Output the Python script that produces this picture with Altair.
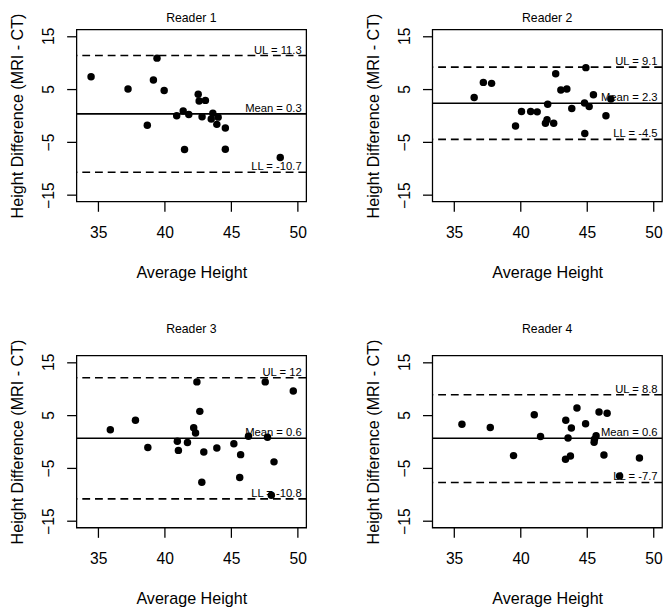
import altair as alt
import pandas as pd

# ---- data ----
READERS = ["Reader 1", "Reader 2", "Reader 3", "Reader 4"]

avg_r1 = [34.46, 39.42, 37.24, 39.15, 39.96, 38.69, 40.90, 41.39, 41.81, 41.49, 42.52,
          42.59, 43.06, 42.81, 43.62, 43.50, 44.02, 43.92, 44.56, 44.56, 48.69]
diff_r1 = [7.28, 10.8, 5.0, 6.67, 4.69, -1.85, -0.06, 0.86, 0.19, -6.42, 4.01,
           2.72, 2.84, -0.25, 0.43, -0.68, -0.31, -1.67, -2.35, -6.36, -7.90]

avg_r2 = [36.51, 37.20, 37.82, 39.62, 40.07, 40.76, 41.25, 42.04, 41.99, 41.87, 42.49,
          42.64, 43.03, 43.48, 43.85, 44.91, 44.81, 45.16, 44.83, 45.48, 46.42, 46.79]
diff_r2 = [3.40, 6.23, 6.05, -1.98, 0.74, 0.74, 0.68, 2.10, -0.80, -1.48, -1.48,
           7.84, 4.81, 5.0, 1.30, 9.01, 2.35, 1.67, -3.40, 3.89, -0.06, 3.09]

avg_r3 = [35.91, 37.80, 38.73, 40.95, 41.03, 41.71, 42.42, 42.64, 42.18, 42.32, 42.94,
          42.79, 43.92, 45.20, 45.71, 45.64, 46.30, 47.56, 47.73, 48.22, 48.02, 49.67]
diff_r3 = [2.22, 4.01, -1.11, 0.06, -1.67, -0.19, 11.23, 5.68, 2.59, 1.60, -1.98,
           -7.65, -1.23, -0.43, -2.47, -6.79, 0.99, 11.23, 0.80, -3.83, -10.12, 9.51]

avg_r4 = [35.59, 37.72, 39.47, 41.03, 41.50, 43.40, 43.82, 43.57, 43.38, 43.75, 44.24,
          44.89, 45.68, 45.56, 45.53, 45.90, 46.51, 46.27, 47.45, 48.94]
diff_r4 = [3.27, 2.65, -2.65, 5.06, 0.93, 4.01, 2.53, 0.68, -3.33, -2.72, 6.30,
           3.33, 1.11, 0.43, -0.12, 5.56, 5.31, -2.53, -6.48, -3.09]

AVGS = [avg_r1, avg_r2, avg_r3, avg_r4]
DIFFS = [diff_r1, diff_r2, diff_r3, diff_r4]

upper_limits = [11.3, 9.1, 12, 8.8]
mean_diffs = [0.3, 2.3, 0.6, 0.6]
lower_limits = [-10.7, -4.5, -10.8, -7.7]

x_ticks = [35, 40, 45, 50]
y_ticks = [-15, -10, -5, 0, 5, 10, 15]

# ---- styling ----
FONT = "Liberation Sans"
X_DOMAIN = [33.36, 50.64]
Y_DOMAIN = [-16.2, 16.2]
LABEL_X = 50.3
W, H = 235, 176


def fmt(v):
    return f"{v:g}"


def panel(i, title_offset):
    pts = pd.DataFrame({"avg": AVGS[i], "diff": DIFFS[i]})
    lims = pd.DataFrame({"y": [upper_limits[i], lower_limits[i]]})
    mean = pd.DataFrame({"y": [mean_diffs[i]]})
    labels = pd.DataFrame({
        "y": [upper_limits[i], mean_diffs[i], lower_limits[i]],
        "lx": [LABEL_X] * 3,
        "txt": ["UL = " + fmt(upper_limits[i]),
                "Mean = " + fmt(mean_diffs[i]),
                "LL = " + fmt(lower_limits[i])],
    })

    xscale = alt.Scale(domain=X_DOMAIN, nice=False, zero=False)
    yscale = alt.Scale(domain=Y_DOMAIN, nice=False, zero=False)
    xaxis = alt.Axis(values=x_ticks, title="Average Height", grid=False, domain=False,
                     tickSize=10, tickColor="black", tickWidth=1.3,
                     labelFontSize=16, labelFont=FONT, labelColor="black",
                     labelPadding=14, labelFlush=False, labelOverlap=False,
                     titleFontSize=16.5, titleFont=FONT, titleFontWeight="normal",
                     titleColor="black", titlePadding=25)
    yaxis = alt.Axis(values=y_ticks, title="Height Difference (MRI - CT)", grid=False,
                     domain=False, tickSize=10, tickColor="black", tickWidth=1.3,
                     labelExpr="(datum.value == 10 || datum.value == -10) ? '' : datum.label",
                     labelAngle=-90, labelAlign="center", labelBaseline="bottom",
                     labelFontSize=16, labelFont=FONT, labelColor="black",
                     labelPadding=10, labelFlush=False, labelOverlap=False,
                     titleFontSize=16.5, titleFont=FONT, titleFontWeight="normal",
                     titleColor="black", titlePadding=16.5)

    base_pts = alt.Chart(pts).mark_circle(size=58, color="black", opacity=1).encode(
        x=alt.X("avg:Q", scale=xscale, axis=xaxis),
        y=alt.Y("diff:Q", scale=yscale, axis=yaxis),
    )
    mean_rule = alt.Chart(mean).mark_rule(color="black", strokeWidth=1.6).encode(
        y=alt.Y("y:Q", scale=yscale))
    lim_rule = alt.Chart(lims).mark_rule(color="black", strokeWidth=1.6,
                                         strokeDash=[8, 5]).encode(
        y=alt.Y("y:Q", scale=yscale))
    txt = alt.Chart(labels).mark_text(align="right", baseline="bottom", fontSize=11.5,
                                      font=FONT, color="black").encode(
        x=alt.X("lx:Q", scale=xscale),
        y=alt.Y("y:Q", scale=yscale),
        text="txt:N",
    )
    return alt.layer(lim_rule, mean_rule, txt, base_pts).properties(
        width=W, height=H,
        title=alt.TitleParams(READERS[i], fontSize=12.5, font=FONT, fontWeight="normal",
                              color="black", offset=title_offset, frame="group",
                              anchor="middle"),
    )


top = alt.hconcat(panel(0, -12), panel(1, -12), spacing=57)
bottom = alt.hconcat(panel(2, 3.9), panel(3, 3.9), spacing=57)
chart = alt.vconcat(top, bottom, spacing=40.5).properties(
    padding={"left": 0, "top": -3, "right": 0, "bottom": 0},
    background="white",
).configure_view(stroke="black", strokeWidth=1.3)

chart.save("out.html", embed_options={"renderer": "svg", "actions": False})
